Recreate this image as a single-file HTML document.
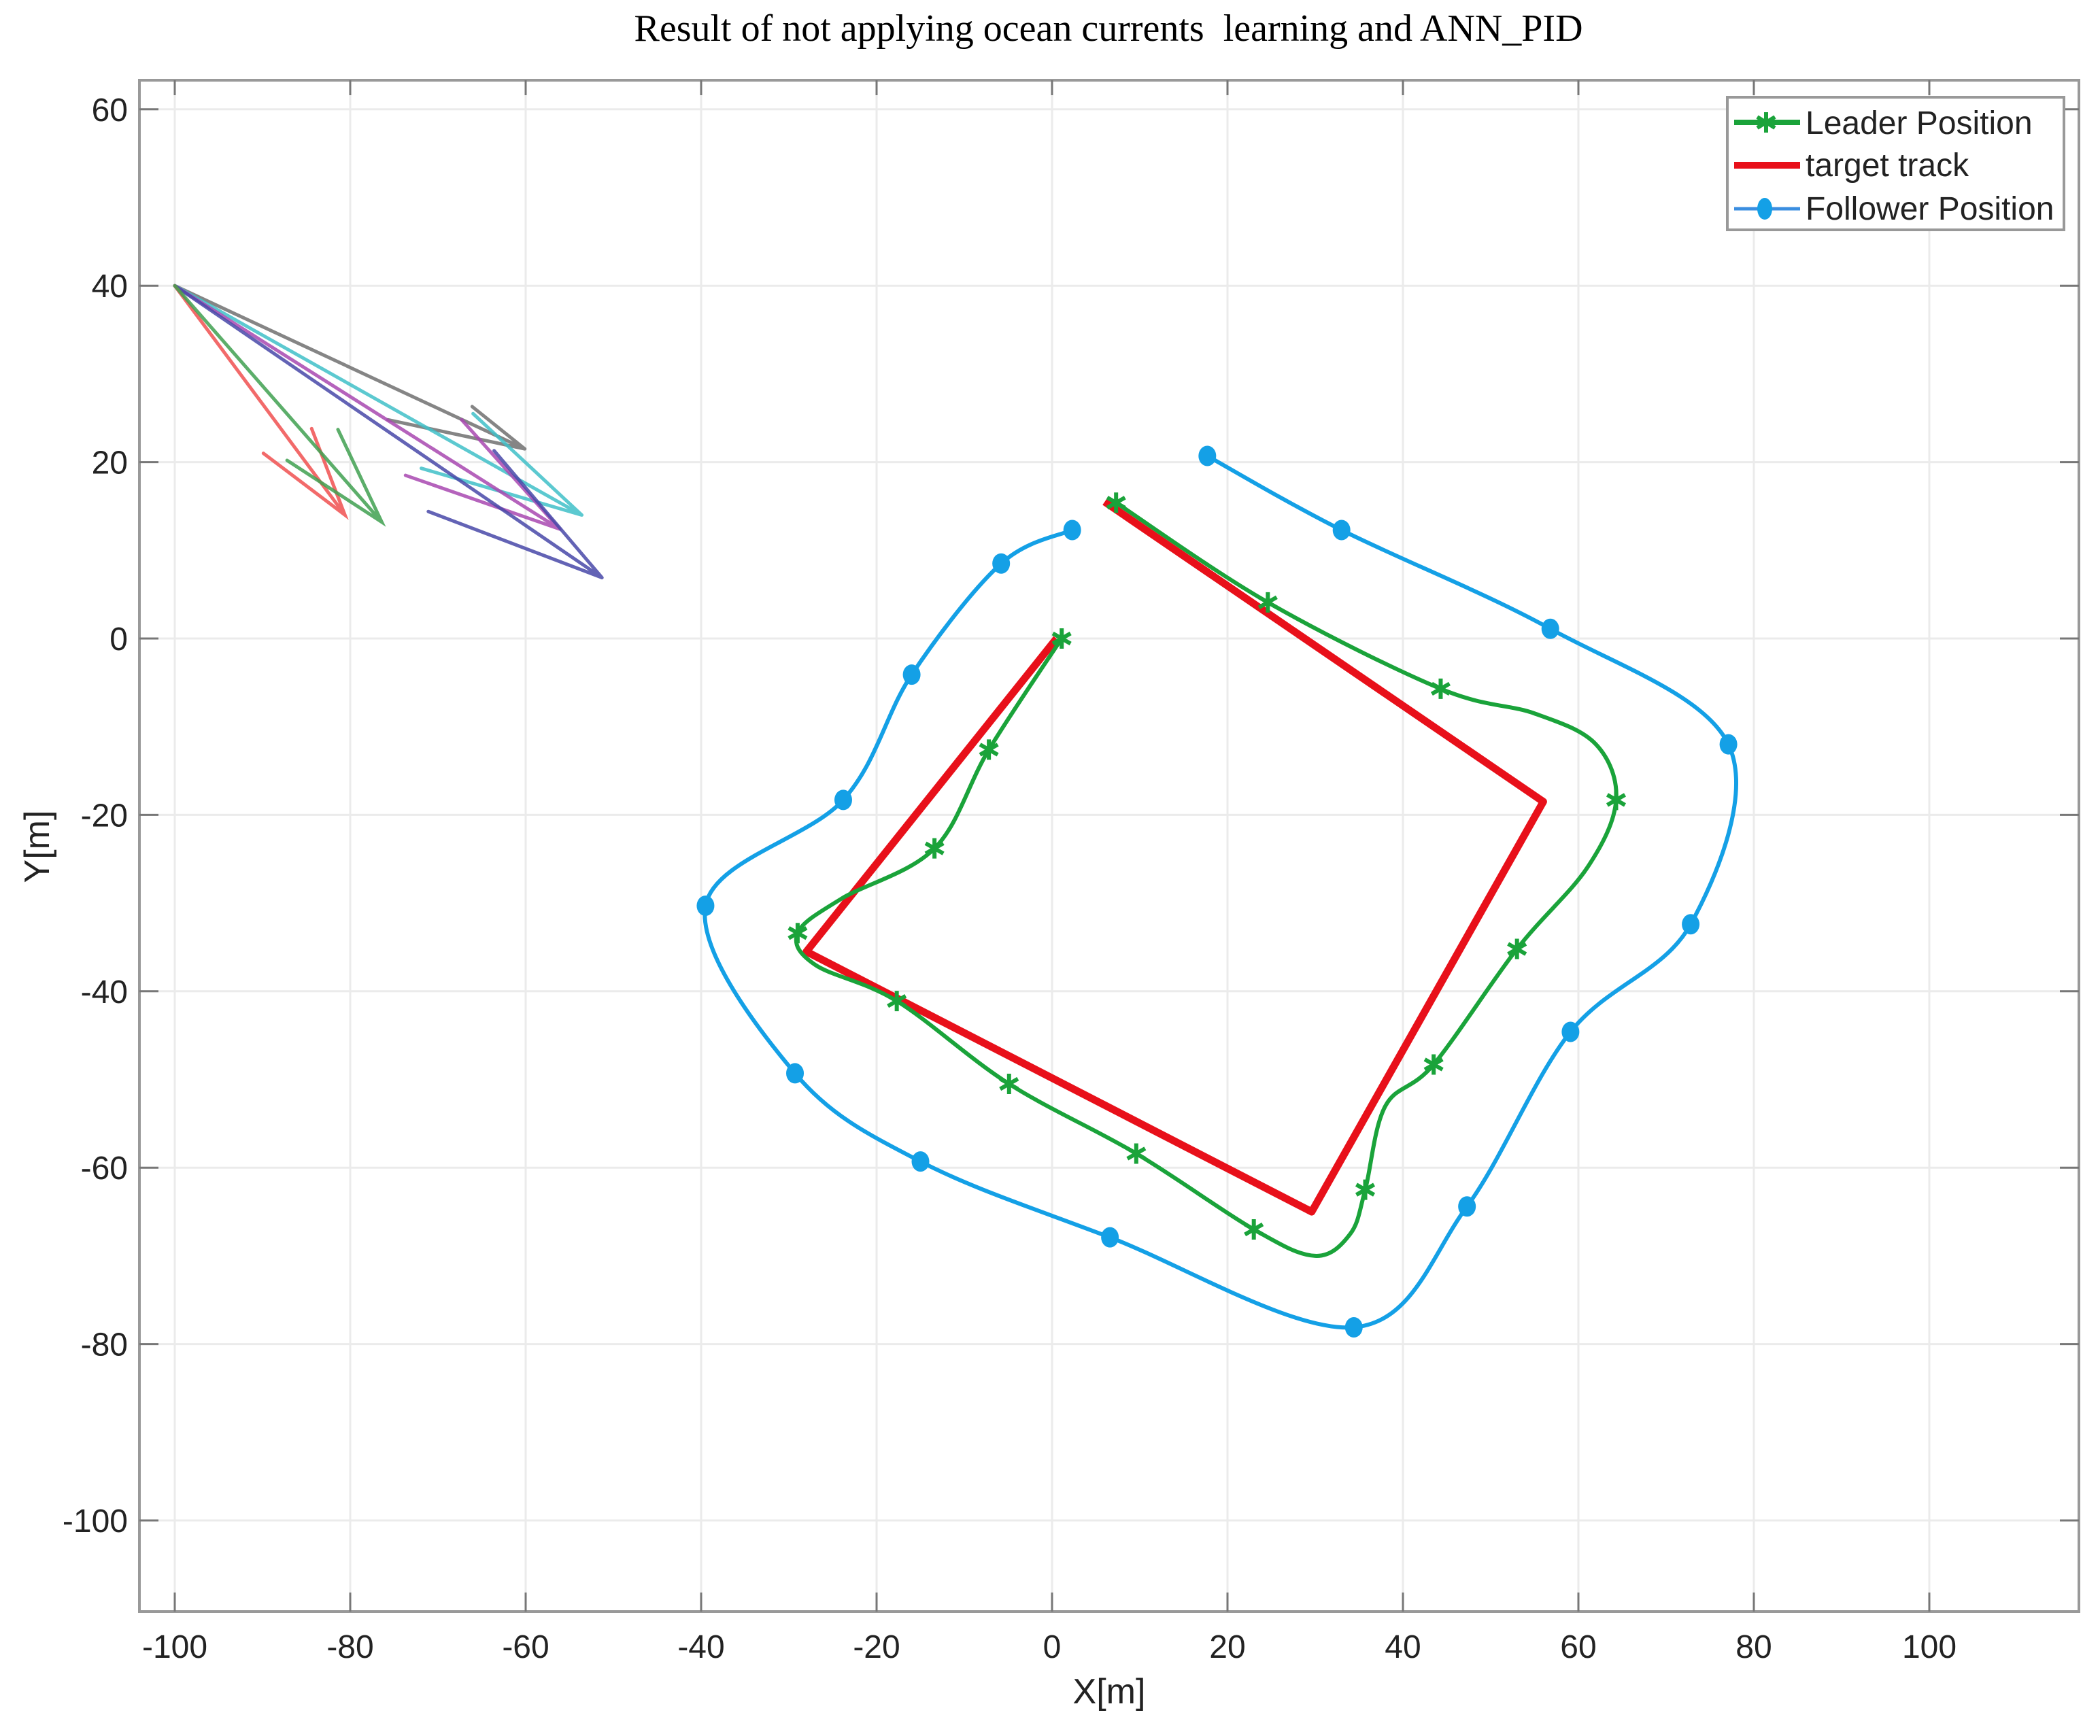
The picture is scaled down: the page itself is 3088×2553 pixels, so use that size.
<!DOCTYPE html>
<html><head><meta charset="utf-8"><style>
html,body{margin:0;padding:0;background:#fff;}
svg{display:block;}
text{font-family:"Liberation Sans",sans-serif;}
</style></head><body>
<svg id="chart" width="3088" height="2553" viewBox="0 0 3088 2553">
<text x="1630" y="60" text-anchor="middle" style="font-family:'Liberation Serif',serif;font-size:56px;white-space:pre" fill="#000" xml:space="preserve">Result of not applying ocean currents  learning and ANN_PID</text>
<g id="grid"></g>
<g id="arrows"></g>
<g id="series"></g>
<rect x="205" y="118" width="2852" height="2252" fill="none" stroke="#999" stroke-width="4"/>
<g id="ticks"></g>
<text x="1631" y="2505" text-anchor="middle" font-size="52" fill="#222">X[m]</text>
<text transform="translate(72,1245) rotate(-90)" text-anchor="middle" font-size="52" fill="#222">Y[m]</text>
<g>
<rect x="2540" y="143" width="495" height="195" fill="#fff" stroke="#999" stroke-width="4"/>
<g>
<line x1="2550" y1="180" x2="2647" y2="180" stroke="#1aa33a" stroke-width="8"/>
<path d="M2597,165L2597,195M2584,172L2610,188M2584,188L2610,172" stroke="#1aa33a" stroke-width="6"/>
<text x="2655" y="197" font-size="48" fill="#222">Leader Position</text></g>
<g>
<line x1="2550" y1="243" x2="2647" y2="243" stroke="#e8101a" stroke-width="10"/>
<text x="2655" y="259" font-size="48" fill="#222">target track</text></g>
<g>
<line x1="2550" y1="307" x2="2647" y2="307" stroke="#3a8ee0" stroke-width="5"/>
<ellipse cx="2595" cy="307" rx="11" ry="16" fill="#14a0e6"/>
<text x="2655" y="323" font-size="48" fill="#222">Follower Position</text></g>
</g>
</svg>
<script>
const xTicks=[-100,-80,-60,-40,-20,0,20,40,60,80,100];
const yTicks=[60,40,20,0,-20,-40,-60,-80,-100];
const targetX=[6,56,29.6,-28,0.5];
const targetY=[15.5,-18.5,-65,-35.5,0];
const leaderX=[1.1,-7.2,-13.4,-24,-29,-27,-17.7,-4.9,9.6,23,30,34,35.7,38,43.5,53,61,64.3,62,55,44.3,24.6,7.3];
const leaderY=[0,-12.6,-23.8,-29.5,-33.4,-37,-41.1,-50.5,-58.4,-67,-70,-67.5,-62.5,-53,-48.3,-35.2,-26,-18.3,-12,-8.5,-5.7,4.1,15.4];
const leaderMarkX=[1.1,-7.2,-13.4,-29,-17.7,-4.9,9.6,23,35.7,43.5,53,64.3,44.3,24.6,7.3];
const leaderMarkY=[0,-12.6,-23.8,-33.4,-41.1,-50.5,-58.4,-67,-62.5,-48.3,-35.2,-18.3,-5.7,4.1,15.4];
const followerX=[2.3,-5.8,-16,-23.8,-39.5,-29.3,-15,6.6,34.4,47.3,59.1,72.8,77.1,56.8,33,17.7];
const followerY=[12.3,8.5,-4.1,-18.3,-30.3,-49.3,-59.3,-67.9,-78.1,-64.4,-44.6,-32.4,-12,1.1,12.3,20.7];
const arrowColors=['#707070','#40c0c8','#a848b0','#4848a8','#f05050','#40a050'];
const arrowTipX=[-60.1,-53.6,-56.1,-51.3,-80.6,-76.4];
const arrowTipY=[21.5,14.0,12.4,6.9,14.0,13.2];
const headAX=[-66.1,-66,-67.3,-63.6,-84.4,-81.4];
const headAY=[26.3,25.5,24.8,21.3,23.8,23.7];
const headBX=[-75.7,-71.9,-73.7,-71.1,-89.9,-87.2];
const headBY=[24.8,19.3,18.5,14.4,21.0,20.2];
const originX=-100, originY=40;

const NS='http://www.w3.org/2000/svg';
const sx=v=>1547+12.9*v;
const sy=v=>939-12.97*v;
function mk(tag,attrs,parent){const e=document.createElementNS(NS,tag);for(const k in attrs)e.setAttribute(k,attrs[k]);parent.appendChild(e);return e;}
const grid=document.getElementById('grid'),ticks=document.getElementById('ticks'),arrows=document.getElementById('arrows'),series=document.getElementById('series');
xTicks.forEach(v=>{
  const g=mk('line',{x1:sx(v),x2:sx(v),y1:118,y2:2370,stroke:'#ebebeb','stroke-width':3},grid);
  
  
  mk('line',{x1:sx(v),x2:sx(v),y1:118,y2:140,stroke:'#777','stroke-width':3},ticks);
  mk('line',{x1:sx(v),x2:sx(v),y1:2370,y2:2342,stroke:'#777','stroke-width':3},ticks);
  const t=mk('text',{x:sx(v),y:2438,'text-anchor':'middle','font-size':48,fill:'#222'},ticks);
  t.textContent=v;
  
  
});
yTicks.forEach(v=>{
  const g=mk('line',{x1:205,x2:3057,y1:sy(v),y2:sy(v),stroke:'#ebebeb','stroke-width':3},grid);
  
  
  mk('line',{x1:205,x2:233,y1:sy(v),y2:sy(v),stroke:'#777','stroke-width':3},ticks);
  mk('line',{x1:3057,x2:3029,y1:sy(v),y2:sy(v),stroke:'#777','stroke-width':3},ticks);
  const t=mk('text',{x:188,y:sy(v)+17,'text-anchor':'end','font-size':48,fill:'#222'},ticks);
  t.textContent=v;
  
  
});
arrowColors.forEach((c,i)=>{
  const p=mk('path',{d:`M${sx(originX)},${sy(originY)}L${sx(arrowTipX[i])},${sy(arrowTipY[i])}M${sx(headAX[i])},${sy(headAY[i])}L${sx(arrowTipX[i])},${sy(arrowTipY[i])}L${sx(headBX[i])},${sy(headBY[i])}`,stroke:c,'stroke-width':5,fill:'none','stroke-opacity':0.85,'stroke-linecap':'round'},arrows);
  
  
});
function smooth(xs,ys){
  const P=xs.map((x,i)=>[sx(x),sy(ys[i])]);
  let d=`M${P[0][0]},${P[0][1]}`;
  for(let i=0;i<P.length-1;i++){
    const p0=P[Math.max(0,i-1)],p1=P[i],p2=P[i+1],p3=P[Math.min(P.length-1,i+2)];
    const c1=[p1[0]+(p2[0]-p0[0])/6,p1[1]+(p2[1]-p0[1])/6];
    const c2=[p2[0]-(p3[0]-p1[0])/6,p2[1]-(p3[1]-p1[1])/6];
    d+=`C${c1[0]},${c1[1]} ${c2[0]},${c2[1]} ${p2[0]},${p2[1]}`;
  }
  return d;
}
const red=mk('polyline',{points:targetX.map((x,i)=>sx(x)+','+sy(targetY[i])).join(' '),fill:'none',stroke:'#e8101a','stroke-width':11,'stroke-linejoin':'round'},series);


const blue=mk('path',{d:smooth(followerX,followerY),fill:'none',stroke:'#14a0e6','stroke-width':6},series);


followerX.forEach((x,i)=>{
  const m=mk('ellipse',{cx:sx(x),cy:sy(followerY[i]),rx:13,ry:15,fill:'#14a0e6'},series);
  
  
});
const green=mk('path',{d:smooth(leaderX,leaderY),fill:'none',stroke:'#1aa33a','stroke-width':6},series);


leaderMarkX.forEach((x,i)=>{
  const X=sx(x),Y=sy(leaderMarkY[i]),r=15;
  const m=mk('path',{d:`M${X},${Y-r}L${X},${Y+r}M${X-r*0.87},${Y-r/2}L${X+r*0.87},${Y+r/2}M${X-r*0.87},${Y+r/2}L${X+r*0.87},${Y-r/2}`,stroke:'#1aa33a','stroke-width':6,fill:'none'},series);
  
  
});
</script>
</body></html>
